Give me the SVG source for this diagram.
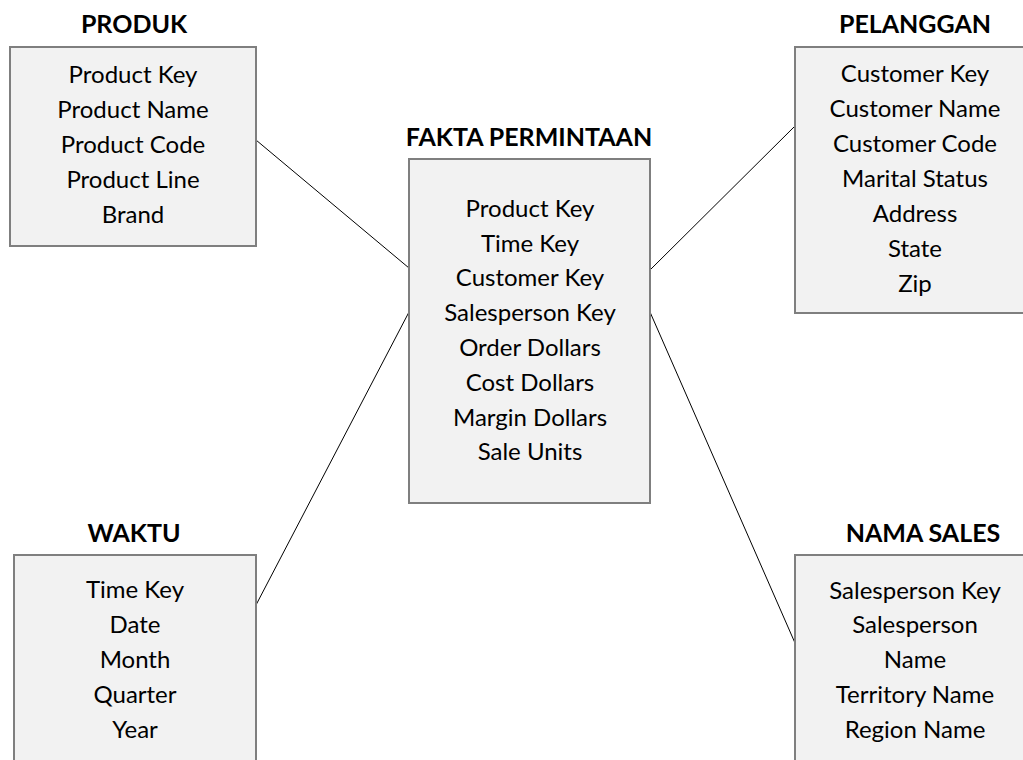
<svg xmlns="http://www.w3.org/2000/svg" width="1023" height="760" viewBox="0 0 1023 760">
<style>
.box{fill:#f2f2f2;stroke:#7f7f7f;stroke-width:2}
.t{font-family:Lato,"Liberation Sans",sans-serif;font-size:24px;text-anchor:middle;fill:#000}
.h{font-family:Lato,"Liberation Sans",sans-serif;font-size:25px;font-weight:bold;text-anchor:middle;fill:#000}
.c{stroke:#000;stroke-width:1;fill:none}
</style>
<rect width="1023" height="760" fill="#fff"/>
<g id="connectors">
<line class="c" x1="256" y1="140" x2="409" y2="268"/>
<line class="c" x1="795" y1="126" x2="650" y2="270"/>
<line class="c" x1="256" y1="605" x2="409" y2="312"/>
<line class="c" x1="795" y1="643" x2="650" y2="312"/>
</g>
<g id="produk">
<text class="h" x="134" y="33">PRODUK</text>
<rect class="box" x="10" y="47" width="246" height="199"/>
<text class="t" x="133" y="83">Product Key</text>
<text class="t" x="133" y="118">Product Name</text>
<text class="t" x="133" y="153">Product Code</text>
<text class="t" x="133" y="188">Product Line</text>
<text class="t" x="133" y="223">Brand</text>
</g>
<g id="fakta">
<text class="h" x="529" y="146">FAKTA PERMINTAAN</text>
<rect class="box" x="409" y="159" width="241" height="344"/>
<text class="t" x="530" y="217">Product Key</text>
<text class="t" x="530" y="252">Time Key</text>
<text class="t" x="530" y="286">Customer Key</text>
<text class="t" x="530" y="321">Salesperson Key</text>
<text class="t" x="530" y="356">Order Dollars</text>
<text class="t" x="530" y="391">Cost Dollars</text>
<text class="t" x="530" y="426">Margin Dollars</text>
<text class="t" x="530" y="460">Sale Units</text>
</g>
<g id="pelanggan">
<text class="h" x="915" y="33">PELANGGAN</text>
<rect class="box" x="795" y="47" width="240" height="266"/>
<text class="t" x="915" y="82">Customer Key</text>
<text class="t" x="915" y="117">Customer Name</text>
<text class="t" x="915" y="152">Customer Code</text>
<text class="t" x="915" y="187">Marital Status</text>
<text class="t" x="915" y="222">Address</text>
<text class="t" x="915" y="257">State</text>
<text class="t" x="915" y="292">Zip</text>
</g>
<g id="waktu">
<text class="h" x="134" y="542">WAKTU</text>
<rect class="box" x="14" y="555" width="242" height="220"/>
<text class="t" x="135" y="598">Time Key</text>
<text class="t" x="135" y="633">Date</text>
<text class="t" x="135" y="668">Month</text>
<text class="t" x="135" y="703">Quarter</text>
<text class="t" x="135" y="738">Year</text>
</g>
<g id="nama-sales">
<text class="h" x="923" y="542">NAMA SALES</text>
<rect class="box" x="795" y="555" width="240" height="220"/>
<text class="t" x="915" y="599">Salesperson Key</text>
<text class="t" x="915" y="633">Salesperson</text>
<text class="t" x="915" y="668">Name</text>
<text class="t" x="915" y="703">Territory Name</text>
<text class="t" x="915" y="738">Region Name</text>
</g>
</svg>
